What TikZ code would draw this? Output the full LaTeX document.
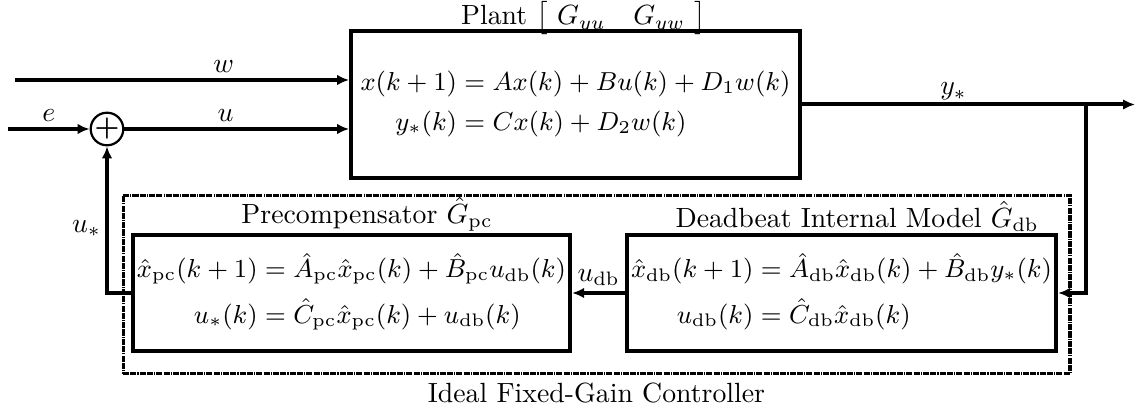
\RequirePackage{fix-cm}
\documentclass[tikz,border=0pt]{standalone}
\usepackage{amsmath}
\usepackage{tikz}
\usetikzlibrary{positioning,arrows.meta}
\tikzset{
  blk/.style={rectangle, draw, line width=1.44pt, inner xsep=1.5pt,
              minimum height=42.1pt, font=\fontsize{9.35}{11.4}\selectfont},
  plantblk/.style={blk, minimum width=161.6pt, minimum height=52.9pt},
  ctrlbox/.style={rectangle, draw, line width=1.1pt,
                  dash pattern=on 2.2pt off 0.4pt on 2.2pt off 0.4pt on 0.4pt off 0.4pt,
                  minimum width=340.9pt, minimum height=64.4pt},
  sumnode/.style={circle, draw, line width=0.8pt, inner sep=0pt, minimum size=11.5pt},
  ttl/.style={inner sep=0pt},
  lbl/.style={inner sep=2pt},
  sig/.style={-{Latex[length=4.3pt,width=3.8pt]}, line width=1.44pt}
}

\begin{document}
\begin{tikzpicture}[x=0.36pt,y=0.36pt]
\useasboundingbox (0,0) rectangle (1145,409);
% controller frame and blocks
\node[ctrlbox] (ctrl) at (596.5,124.5) {};
\node[ttl, below=2.5pt of ctrl] (ctrllbl) {Ideal Fixed-Gain Controller};
\node[plantblk] (plant) at (575.5,304.5)
  {$\begin{aligned} x(k+1) &= Ax(k)+Bu(k)+D_1w(k)\\ y_*(k) &= Cx(k)+D_2w(k)\end{aligned}$};
\node[ttl, above=-2.2pt of plant, xshift=2.9pt] (plantlbl)
  {Plant $\big[\ G_{yu}\quad G_{yw}\ \big]$};
\node[blk] (pc) at (351.5,116)
  {$\begin{aligned} \hat{x}_{\mathrm{pc}}(k+1) &= \hat{A}_{\mathrm{pc}}\hat{x}_{\mathrm{pc}}(k)+\hat{B}_{\mathrm{pc}}u_{\mathrm{db}}(k)\\ u_*(k) &= \hat{C}_{\mathrm{pc}}\hat{x}_{\mathrm{pc}}(k)+u_{\mathrm{db}}(k)\end{aligned}$};
\node[ttl, above=0.2pt of pc, xshift=5.6pt] (pclbl) {Precompensator $\hat{G}_{\mathrm{pc}}$};
\node[blk] (db) at (841.5,116)
  {$\begin{aligned} \hat{x}_{\mathrm{db}}(k+1) &= \hat{A}_{\mathrm{db}}\hat{x}_{\mathrm{db}}(k)+\hat{B}_{\mathrm{db}}y_*(k)\\ u_{\mathrm{db}}(k) &= \hat{C}_{\mathrm{db}}\hat{x}_{\mathrm{db}}(k)\end{aligned}$};
\node[ttl, above=0.2pt of db, xshift=5.6pt] (dblbl) {Deadbeat Internal Model $\hat{G}_{\mathrm{db}}$};
\node[sumnode] (sum) at (107,280) {\bfseries +};
% signal ends
\coordinate (eIn) at (8,280);
\coordinate (wIn) at (15,329);
\coordinate (yOut) at (1135,304.5);
\coordinate (fb) at (1086,304.5);
% connections
\draw[sig] (eIn) -- (sum) node[lbl, midway, above] {$e$};
\draw[sig] (wIn) -- (wIn -| plant.west) node[lbl, pos=0.625, above] {$w$};
\draw[sig] (sum) -- (sum -| plant.west) node[lbl, pos=0.45, above] {$u$};
\draw[sig] (plant.east) -- (yOut) node[lbl, pos=0.455, above, inner sep=0.8pt] {$y_*$};
\draw[sig] (fb) |- (db.east);
\draw[sig] (db.west) -- (pc.east) node[lbl, midway, above] {$u_{\mathrm{db}}$};
\draw[sig] (pc.west) -| (sum.south) node[lbl, pos=0.72, left, inner sep=1.5pt] {$u_*$};
\end{tikzpicture}
\end{document}
